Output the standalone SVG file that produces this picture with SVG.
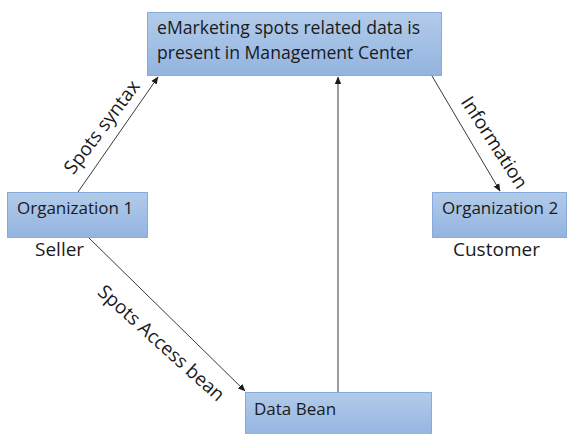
<svg xmlns="http://www.w3.org/2000/svg" width="568" height="434" viewBox="0 0 568 434">
  <defs>
    <linearGradient id="boxFill" x1="0" y1="0" x2="0" y2="1">
      <stop offset="0" stop-color="#b2cbea"/>
      <stop offset="1" stop-color="#93b4e0"/>
    </linearGradient>
    <marker id="arrow" markerWidth="8" markerHeight="8" refX="7" refY="4" orient="auto" markerUnits="userSpaceOnUse">
      <path d="M0,0.8 L7.5,4 L0,7.2 Z" fill="#1a1a1a"/>
    </marker>
    <style>
      .box { fill: url(#boxFill); stroke: #85acdc; stroke-width: 1; }
      .lbl { font-family: "Open Sans", "Liberation Sans", sans-serif; fill: #1a1a1a; }
      .node { font-size: 17px; }
      .title { font-size: 17.6px; }
      .edge { font-size: 19px; }
      .conn { stroke: #3a3a3a; stroke-width: 1; fill: none; marker-end: url(#arrow); }
    </style>
  </defs>
  <rect width="568" height="434" fill="#ffffff"/>

  <!-- connectors -->
  <g id="connectors">
    <line class="conn" x1="78" y1="192" x2="158" y2="77"/>
    <line class="conn" x1="338" y1="392" x2="338" y2="77"/>
    <line class="conn" x1="432" y1="76" x2="500" y2="191"/>
    <line class="conn" x1="88" y1="237" x2="245" y2="391"/>
    <text class="lbl edge" x="107" y="131" text-anchor="middle" transform="rotate(-53 107 131)">Spots syntax</text>
    <text class="lbl edge" x="489" y="146" text-anchor="middle" transform="rotate(57 489 146)">Information</text>
    <text class="lbl edge" x="157" y="348" text-anchor="middle" transform="rotate(42 157 348)">Spots Access bean</text>
  </g>

  <g id="management-center">
    <rect class="box" x="147.5" y="12.5" width="294" height="63"/>
    <text class="lbl title" x="157" y="34">eMarketing spots related data is</text>
    <text class="lbl title" x="157" y="59">present in Management Center</text>
  </g>

  <g id="organization-1">
    <rect class="box" x="7.5" y="192.5" width="140" height="45"/>
    <text class="lbl node" x="17" y="214">Organization 1</text>
    <text class="lbl edge" x="35" y="256">Seller</text>
  </g>

  <g id="organization-2">
    <rect class="box" x="432.5" y="192.5" width="134" height="45"/>
    <text class="lbl node" x="442" y="214">Organization 2</text>
    <text class="lbl edge" x="453" y="256">Customer</text>
  </g>

  <g id="data-bean">
    <rect class="box" x="245.5" y="392.5" width="186" height="45"/>
    <text class="lbl node" x="254" y="415">Data Bean</text>
  </g>
</svg>
